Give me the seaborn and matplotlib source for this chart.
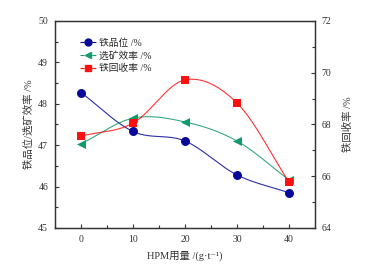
import numpy as np
import pandas as pd
import matplotlib
matplotlib.use("Agg")
import matplotlib.pyplot as plt
from matplotlib.lines import Line2D
from matplotlib.ticker import MultipleLocator
import seaborn as sns

# data
dosage = [0, 10, 20, 30, 40]
fe_grade = [48.27, 47.33, 47.10, 46.28, 45.85]
efficiency = [47.03, 47.65, 47.56, 47.10, 46.16]
recovery = [67.55, 68.05, 69.72, 68.83, 65.78]
labels = ["铁品位 /%", "选矿效率 /%", "铁回收率 /%"]

sns.set_theme(style="ticks")
FAM = ["Liberation Serif", "DejaVu Serif", "Noto Sans CJK SC"]
plt.rcParams["font.family"] = FAM
plt.rcParams["axes.unicode_minus"] = False


def hermite_curve(x, y, n=60):
    """Catmull-Rom style smooth curve through the points."""
    x = np.asarray(x, float)
    y = np.asarray(y, float)
    k = len(x)
    m = np.zeros(k)
    m[0] = (y[1] - y[0]) / (x[1] - x[0])
    m[-1] = (y[-1] - y[-2]) / (x[-1] - x[-2])
    for i in range(1, k - 1):
        m[i] = (y[i + 1] - y[i - 1]) / (x[i + 1] - x[i - 1])
    xs_all, ys_all = [], []
    for i in range(k - 1):
        h = x[i + 1] - x[i]
        t = np.linspace(0, 1, n)
        h00 = 2 * t**3 - 3 * t**2 + 1
        h10 = t**3 - 2 * t**2 + t
        h01 = -2 * t**3 + 3 * t**2
        h11 = t**3 - t**2
        xs_all.append(x[i] + t * h)
        ys_all.append(h00 * y[i] + h10 * h * m[i] + h01 * y[i + 1] + h11 * h * m[i + 1])
    return np.concatenate(xs_all), np.concatenate(ys_all)


fig = plt.figure(figsize=(3.67, 2.65), dpi=100)
ax = fig.add_axes([0.150, 0.140, 0.708, 0.781])
ax2 = ax.twinx()

blue = "#0a0a9a"
green = "#139a6a"
red = "#ff1010"

for yv, col, mk, a, ms in [(fe_grade, blue, "o", ax, 42), (efficiency, green, "<", ax, 42), (recovery, red, "s", ax2, 34)]:
    xs, ys = hermite_curve(dosage, yv)
    sns.lineplot(x=xs, y=ys, ax=a, color=col, lw=0.8, alpha=0.85, sort=False)
    sns.scatterplot(x=dosage, y=yv, ax=a, color=col, marker=mk, s=ms, edgecolor=col, linewidth=0, zorder=5)

ax.set_xlim(-5, 45)
ax.set_ylim(45, 50)
ax2.set_ylim(64, 72)
ax.set_xticks([0, 10, 20, 30, 40])
ax.xaxis.set_minor_locator(MultipleLocator(5))
ax.yaxis.set_major_locator(MultipleLocator(1))
ax.yaxis.set_minor_locator(MultipleLocator(0.5))
ax2.yaxis.set_major_locator(MultipleLocator(2))
ax2.yaxis.set_minor_locator(MultipleLocator(1))

for a in (ax, ax2):
    a.tick_params(which="both", direction="in", labelsize=7, colors="#333333", width=0.8)
    a.tick_params(which="major", length=3)
    a.tick_params(which="minor", length=2)
    for s in a.spines.values():
        s.set_color("#333333")
        s.set_linewidth(0.9)
ax.tick_params(axis="x", pad=5)
ax.tick_params(axis="y", pad=5)
ax2.tick_params(axis="y", pad=5)

ax.set_xlabel("HPM用量 /(g·t⁻¹)", fontsize=7.5, color="#333333", labelpad=5)
ax.set_ylabel("铁品位/选矿效率 /%", fontsize=7.5, color="#333333", labelpad=3)
ax2.set_ylabel("铁回收率 /%", fontsize=7.5, color="#333333", labelpad=8)

handles = [
    Line2D([], [], color=blue, marker="o", ls="--", lw=0.8, ms=5),
    Line2D([], [], color=green, marker="<", ls="--", lw=0.8, ms=5),
    Line2D([], [], color=red, marker="s", ls="--", lw=0.8, ms=4.5),
]
ax.legend(handles, labels, loc="upper left", bbox_to_anchor=(0.07, 0.95), frameon=False,
          fontsize=7, handlelength=1.6, handletextpad=0.3, labelspacing=0.35, borderpad=0.2)

fig.savefig("out.png", dpi=100, facecolor="white")
